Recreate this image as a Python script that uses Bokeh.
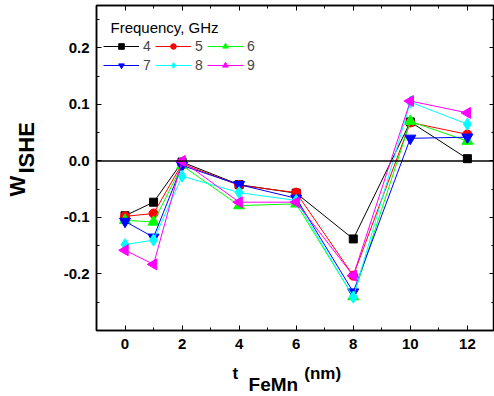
from math import pi
from bokeh.plotting import figure
from bokeh.models import (Span, Label, Legend, LegendItem, LinearAxis,
                          SingleIntervalTicker, NumeralTickFormatter, Range1d,
                          CustomJSTickFormatter)
from bokeh.embed import file_html
from bokeh.resources import INLINE

# ---- data ----
thickness_nm = [0, 1, 2, 4, 6, 8, 10, 12]
freq_labels = ["4", "5", "6", "7", "8", "9"]
w_4GHz = [-0.097, -0.073, -0.002, -0.042, -0.057, -0.138, 0.069, 0.004]
w_5GHz = [-0.098, -0.093, -0.005, -0.043, -0.056, -0.203, 0.068, 0.047]
w_6GHz = [-0.105, -0.108, -0.008, -0.079, -0.076, -0.240, 0.070, 0.035]
w_7GHz = [-0.107, -0.135, -0.008, -0.042, -0.066, -0.232, 0.040, 0.042]
w_8GHz = [-0.148, -0.140, -0.027, -0.056, -0.070, -0.241, 0.104, 0.065]
w_9GHz = [-0.158, -0.183, 0.000, -0.073, -0.073, -0.203, 0.106, 0.085]
series = [w_4GHz, w_5GHz, w_6GHz, w_7GHz, w_8GHz, w_9GHz]

colors = ["#000000", "#ff0000", "#00ff00", "#0000ff", "#00ffff", "#ff00ff"]
markers = ["square", "circle", "triangle", "inverted_triangle", "diamond", "triangle"]
angles = [0, 0, 0, 0, 0, pi / 2]
sizes = [8, 9, 11, 11, 12, 11]

FONT = "Liberation Sans"

p = figure(width=494, height=396, x_range=Range1d(-1, 12.95), y_range=Range1d(-0.3, 0.275),
           output_backend="svg", toolbar_location=None,
           min_border_left=96, min_border_right=0, min_border_top=5, min_border_bottom=66)
p.grid.visible = False
p.outline_line_color = "black"
p.outline_line_width = 1.5

# bottom / left axes
xa = p.xaxis[0]
xa.ticker = SingleIntervalTicker(interval=2, num_minor_ticks=2)
ya = p.yaxis[0]
ya.ticker = SingleIntervalTicker(interval=0.1, num_minor_ticks=2)
ya.formatter = NumeralTickFormatter(format="0.0")
for ax in (xa, ya):
    ax.axis_line_width = 1.5
    ax.axis_line_color = "black"
    ax.major_tick_in = 5
    ax.major_tick_out = 0
    ax.minor_tick_in = 3
    ax.minor_tick_out = 0
    ax.major_tick_line_color = "black"
    ax.minor_tick_line_color = "black"
    ax.major_label_text_font = FONT
    ax.major_label_text_font_style = "bold"
    ax.major_label_text_font_size = "15px"
    ax.major_label_text_color = "black"
xa.major_label_standoff = 8
ya.major_label_standoff = 7

# top / right axes (ticks only, no labels)
blank = CustomJSTickFormatter(code="return ''")
for place, tick in (("above", SingleIntervalTicker(interval=2, num_minor_ticks=2)),
                    ("right", SingleIntervalTicker(interval=0.1, num_minor_ticks=2))):
    ax = LinearAxis(ticker=tick, formatter=blank, major_label_text_font_size="1px",
                    major_label_standoff=0,
                    major_tick_in=5, major_tick_out=0, minor_tick_in=3, minor_tick_out=0,
                    axis_line_color="black", axis_line_width=1.5)
    p.add_layout(ax, place)

# zero line
p.add_layout(Span(location=0, dimension="width", line_color="black", line_width=1.5))

items = []
for vals, lab, col, mk, ang, sz in zip(series, freq_labels, colors, markers, angles, sizes):
    lr = p.line(thickness_nm, vals, line_color=col, line_width=1)
    sr = p.scatter(thickness_nm, vals, marker=mk, angle=ang, size=sz,
                   fill_color=col, line_color=col)
    items.append(LegendItem(label=lab, renderers=[lr, sr]))

legend = Legend(items=items, location=(7, 257), orientation="horizontal", ncols=3,
                padding=0, margin=0, spacing=3, glyph_width=36, glyph_height=14,
                label_standoff=4, label_height=14, label_width=9,
                label_text_font=FONT, label_text_font_size="14px",
                border_line_color=None, background_fill_alpha=0)
p.add_layout(legend)

# legend title
p.add_layout(Label(x=-1, y=0, x_offset=14, y_offset=133, text="Frequency, GHz",
                   text_font=FONT, text_font_size="15px", text_baseline="alphabetic",
                   text_align="left", text_color="black"))

def piece(text, x, y, dx, dy, size, angle=0):
    return Label(x=x, y=y, x_offset=dx, y_offset=dy, text=text, angle=angle,
                 text_font=FONT, text_font_size=size, text_font_style="bold",
                 text_color="black", text_baseline="alphabetic", text_align="left")

NB = "\u00a0"
# x axis title: t_FeMn (nm) -- labels living in the side panel (not clipped)
p.add_layout(piece("t" + NB * 14 + "(nm)", 0, -0.3, 107.5, -43, "17px"), "below")
p.add_layout(piece("FeMn", 0, -0.3, 123.5, -54, "19px"), "below")
# y axis title: W_ISHE
p.add_layout(piece("ISHE", -1, 0, -70, -12.6, "22px", pi / 2), "left")
p.add_layout(piece("W", -1, 0, -79, -35.6, "22px", pi / 2), "left")

open("out.html", "w").write(file_html(p, INLINE))
